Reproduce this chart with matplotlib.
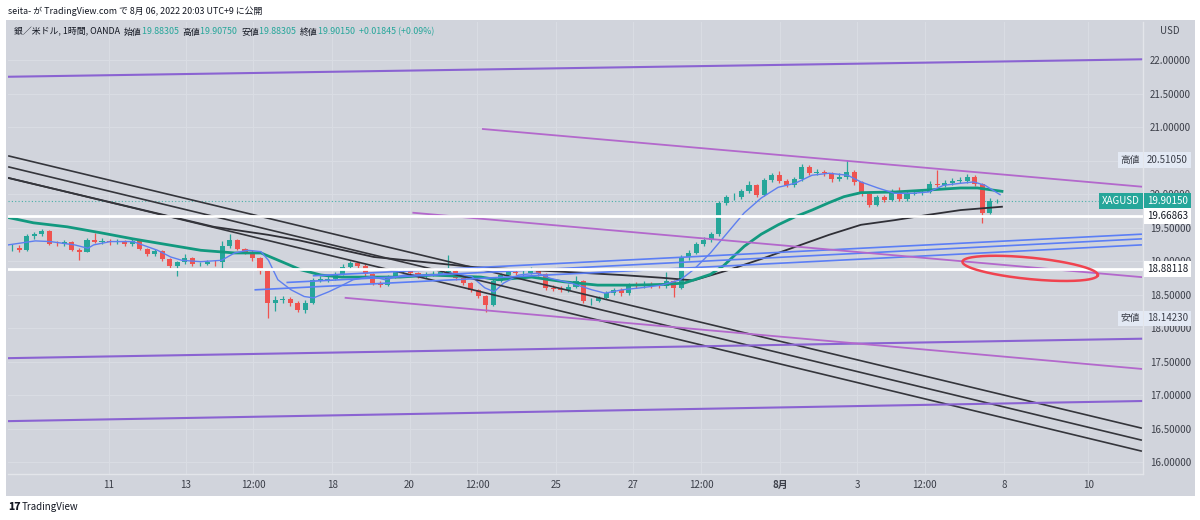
import numpy as np
import matplotlib.pyplot as plt
import matplotlib.transforms as mtransforms
from matplotlib.patches import Rectangle

plt.rcParams['font.family'] = ['Noto Sans CJK JP', 'DejaVu Sans']

# ---------------------------------------------
# データ (4時間ごとの足, 時間軸は1時間足の本数)
# ---------------------------------------------
open0 = 19.19
closes = [
    19.20, 19.16, 19.38, 19.40, 19.45, 19.26, 19.25, 19.28, 19.17, 19.14,
    19.32, 19.29, 19.30, 19.28, 19.28, 19.26, 19.30, 19.18, 19.11, 19.15,
    19.03, 18.92, 18.98, 19.04, 18.95, 18.96, 18.99, 18.98, 19.22, 19.31,
    19.18, 19.14, 19.05, 18.85, 18.38, 18.42, 18.43, 18.38, 18.27, 18.38,
    18.72, 18.72, 18.73, 18.81, 18.91, 18.97, 18.93, 18.80, 18.67, 18.64,
    18.76, 18.86, 18.86, 18.82, 18.77, 18.79, 18.81, 18.84, 18.85, 18.74,
    18.67, 18.56, 18.48, 18.35, 18.70, 18.79, 18.84, 18.82, 18.82, 18.85,
    18.80, 18.60, 18.58, 18.56, 18.61, 18.70, 18.40, 18.41, 18.45, 18.52,
    18.56, 18.52, 18.64, 18.62, 18.66, 18.63, 18.62, 18.70, 18.60, 19.06,
    19.12, 19.25, 19.32, 19.40, 19.86, 19.95, 19.96, 20.04, 20.13, 19.99,
    20.21, 20.28, 20.20, 20.13, 20.22, 20.41, 20.32, 20.33, 20.31, 20.22,
    20.26, 20.33, 20.18, 20.00, 19.84, 19.95, 19.91, 20.05, 19.92, 20.00,
    20.02, 20.03, 20.15, 20.13, 20.17, 20.20, 20.20, 20.26, 20.15, 19.72,
    19.89, 19.9015,
]
highs = [
    19.25, 19.24, 19.40, 19.43, 19.48, 19.46, 19.30, 19.31, 19.30, 19.20,
    19.35, 19.42, 19.34, 19.33, 19.33, 19.32, 19.33, 19.31, 19.20, 19.18,
    19.16, 19.05, 19.00, 19.10, 19.06, 18.99, 19.01, 19.01, 19.30, 19.40,
    19.33, 19.20, 19.16, 19.06, 18.86, 18.48, 18.48, 18.46, 18.40, 18.42,
    18.75, 18.77, 18.78, 18.84, 18.95, 19.00, 18.99, 18.95, 18.82, 18.70,
    18.79, 18.89, 18.90, 18.88, 18.84, 18.83, 18.85, 18.88, 19.09, 18.90,
    18.76, 18.69, 18.58, 18.50, 18.73, 18.82, 18.88, 18.88, 18.86, 18.91,
    18.90, 18.82, 18.64, 18.62, 18.66, 18.78, 18.72, 18.45, 18.48, 18.55,
    18.60, 18.59, 18.67, 18.68, 18.70, 18.69, 18.67, 18.84, 18.72, 19.09,
    19.16, 19.28, 19.36, 19.44, 19.90, 19.99, 20.01, 20.07, 20.20, 20.15,
    20.24, 20.31, 20.35, 20.22, 20.26, 20.45, 20.43, 20.37, 20.36, 20.33,
    20.31, 20.5105, 20.36, 20.20, 20.02, 19.98, 19.98, 20.08, 20.11, 20.04,
    20.06, 20.07, 20.19, 20.36, 20.21, 20.24, 20.25, 20.30, 20.28, 20.17,
    19.94, 19.93,
]
lows = [
    19.15, 19.14, 19.15, 19.33, 19.37, 19.24, 19.22, 19.22, 19.15, 19.01,
    19.13, 19.27, 19.26, 19.24, 19.25, 19.22, 19.23, 19.16, 19.08, 19.07,
    19.00, 18.90, 18.77, 18.96, 18.93, 18.92, 18.94, 18.92, 18.90, 19.20,
    19.16, 19.11, 19.00, 18.80, 18.1423, 18.25, 18.37, 18.33, 18.24, 18.22,
    18.36, 18.68, 18.69, 18.71, 18.79, 18.88, 18.89, 18.77, 18.64, 18.61,
    18.63, 18.74, 18.82, 18.79, 18.74, 18.75, 18.77, 18.79, 18.82, 18.72,
    18.64, 18.53, 18.45, 18.24, 18.33, 18.68, 18.77, 18.79, 18.78, 18.80,
    18.77, 18.57, 18.55, 18.53, 18.54, 18.59, 18.37, 18.34, 18.39, 18.43,
    18.50, 18.48, 18.50, 18.59, 18.60, 18.60, 18.59, 18.60, 18.47, 18.58,
    19.02, 19.10, 19.22, 19.28, 19.38, 19.83, 19.91, 19.93, 20.02, 19.95,
    19.97, 20.18, 20.17, 20.10, 20.11, 20.20, 20.29, 20.28, 20.27, 20.18,
    20.19, 20.23, 20.14, 19.97, 19.80, 19.82, 19.88, 19.89, 19.89, 19.90,
    19.98, 19.99, 20.01, 20.10, 20.10, 20.14, 20.16, 20.17, 20.12, 19.56,
    19.70, 19.86,
]

# 移動平均線 (チャートから読んだ値)
ma_fast_t = [-0.5, 14, 22, 35, 42, 45, 54, 66, 74, 79, 86, 92, 102, 113, 120, 127, 134, 138,
             143, 150, 157, 162, 170, 176, 183, 193, 200, 210, 225, 235, 246, 253, 258, 263,
             271, 281, 288, 299, 310, 317, 326, 336, 347, 357, 364, 373, 382, 391, 400, 409,
             418, 427, 436, 446, 453, 462, 471, 480, 489, 497, 506, 513, 519, 527]
ma_fast_p = [19.24, 19.30, 19.29, 19.24, 19.19, 19.24, 19.29, 19.29, 19.21, 19.16, 19.06, 19.01,
             18.99, 19.01, 19.12, 19.16, 19.14, 19.01, 18.72, 18.57, 18.47, 18.45, 18.54, 18.62,
             18.72, 18.77, 18.72, 18.79, 18.79, 18.82, 18.77, 18.60, 18.54, 18.67, 18.79, 18.82,
             18.74, 18.67, 18.57, 18.52, 18.57, 18.60, 18.64, 18.72, 18.87, 19.12, 19.42, 19.72,
             19.94, 20.10, 20.16, 20.28, 20.31, 20.28, 20.18, 20.09, 20.01, 20.01, 20.03, 20.13,
             20.16, 20.18, 20.13, 19.99]
ma_mid_t = [-0.5, 13, 31, 49, 66, 85, 102, 120, 134, 145, 155, 166, 177, 208, 225, 251, 260,
            278, 295, 313, 331, 348, 359, 373, 380, 391, 400, 409, 418, 427, 436, 444, 453,
            471, 489, 506, 515, 528]
ma_mid_p = [19.65, 19.57, 19.51, 19.42, 19.33, 19.24, 19.16, 19.12, 19.12, 18.99, 18.87, 18.79,
            18.76, 18.76, 18.79, 18.76, 18.72, 18.76, 18.69, 18.64, 18.64, 18.65, 18.67, 18.80,
            18.93, 19.22, 19.40, 19.54, 19.66, 19.76, 19.87, 19.96, 20.02, 20.03, 20.06, 20.09,
            20.09, 20.04]
ma_slow_t = [-0.5, 22, 49, 76, 109, 138, 154, 194, 247, 294, 326, 347, 364, 382, 400, 418,
             436, 453, 471, 489, 506, 528]
ma_slow_p = [20.24, 20.09, 19.91, 19.73, 19.51, 19.39, 19.31, 19.06, 18.91, 18.84, 18.79, 18.75,
             18.71, 18.86, 19.03, 19.21, 19.39, 19.54, 19.61, 19.69, 19.76, 19.81]

# 描画ライン (始点時間, 始点価格, 終点時間, 終点価格)
black_lines = [(0, 20.567, 602, 16.507), (0, 20.403, 602, 16.328), (0, 20.239, 602, 16.164)]
blue_lines = [(162, 18.78, 602, 19.40), (148, 18.68, 602, 19.33), (131, 18.57, 602, 19.24)]
purple_long = [(0, 21.75, 602, 22.01), (0, 17.55, 602, 17.84), (0, 16.61, 602, 16.91)]
purple_desc = [(252, 20.97, 602, 20.11), (215, 19.72, 602, 18.76), (179, 18.45, 602, 17.39)]
hlines = [19.66863, 18.88118]
ellipse_t = [507, 579]
ellipse_p = [18.99, 18.79]
ellipse_half = 0.16

hi_price = 20.51050
lo_price = 18.14230
last_price = 19.90150

price_ticks = [16.0, 16.5, 17.0, 17.5, 18.0, 18.5, 19.0, 19.5, 20.0, 20.5, 21.0, 21.5, 22.0]
time_ticks = [53, 94, 130, 172, 213, 249, 291, 332, 368, 410, 451, 487, 529, 574]
time_labels = ['11', '13', '12:00', '18', '20', '12:00', '25', '27', '12:00', '8月', '3',
               '12:00', '8', '10']

BG = '#d1d4dc'
UP = '#26a69a'
DOWN = '#ef5350'
TXT = '#131722'

# ---------------------------------------------
# 図
# ---------------------------------------------
W, H = 1200, 520
fig = plt.figure(figsize=(W / 100, H / 100), dpi=100)
fig.patch.set_facecolor('white')
bg = fig.add_axes([6 / W, 1 - 496 / H, 1189 / W, 476 / H], zorder=0)
bg.set_axis_off()
bg.add_patch(Rectangle((0, 0), 1, 1, transform=bg.transAxes, facecolor=BG, edgecolor='none'))

ax = fig.add_axes([8 / W, 1 - 474 / H, 1135 / W, 452 / H], zorder=2)
ax.set_facecolor(BG)
ax.set_xlim(-0.5, 603)
ax.set_ylim(16 + (462 - 474) / 67, 16 + (462 - 22) / 67)

for s in ['top', 'left']:
    ax.spines[s].set_visible(False)
for s in ['right', 'bottom']:
    ax.spines[s].set_color('#e3e5ea')
    ax.spines[s].set_linewidth(1)

# 高値ラベルの下に完全に隠れる目盛りは表示しない
ax.yaxis.tick_right()
ax.set_yticks(price_ticks)
ax.set_yticklabels(['' if abs(v - hi_price) < 0.03 else f'{v:.5f}' for v in price_ticks])
ax.set_xticks(time_ticks)
ax.set_xticklabels(time_labels)
ax.tick_params(axis='both', length=0, labelsize=7, labelcolor='#3b3e48')
ax.tick_params(axis='y', pad=5)
ax.tick_params(axis='x', pad=4)
for lab in ax.get_xticklabels():
    if lab.get_text() == '8月':
        lab.set_fontweight('bold')
ax.grid(True, color='#dadde4', linewidth=0.7)
ax.set_axisbelow(True)

# ローソク足
c = np.array(closes)
o = np.concatenate([[open0], c[:-1]])
t = np.arange(len(c)) * 4 + 1.5
col = np.where(c >= o, UP, DOWN)
ax.vlines(t, lows, highs, colors=col, linewidth=0.9, zorder=3)
ax.bar(t, np.maximum(np.abs(c - o), 0.008), bottom=np.minimum(o, c), width=2.7,
       color=col, zorder=3, linewidth=0)

# 移動平均
ax.plot(ma_slow_t, ma_slow_p, color='#2f2f36', linewidth=1.3, zorder=4)
ax.plot(ma_mid_t, ma_mid_p, color='#12997f', linewidth=2.0, zorder=4)
ax.plot(ma_fast_t, ma_fast_p, color='#5e7ff0', linewidth=1.0, zorder=4)

# 描画ライン
for x0, y0, x1, y1 in black_lines:
    ax.plot([x0, x1], [y0, y1], color='#34353b', linewidth=1.2, zorder=5)
for x0, y0, x1, y1 in blue_lines:
    ax.plot([x0, x1], [y0, y1], color='#5b7ef5', linewidth=1.2, zorder=5)
for x0, y0, x1, y1 in purple_long:
    ax.plot([x0, x1], [y0, y1], color='#8a63d2', linewidth=1.5, zorder=5)
for x0, y0, x1, y1 in purple_desc:
    ax.plot([x0, x1], [y0, y1], color='#b368cc', linewidth=1.3, zorder=5)
for y in hlines:
    ax.axhline(y, color='white', linewidth=2, zorder=5)
ax.axhline(last_price, color=UP, linewidth=0.8, linestyle=(0, (1, 2)), alpha=0.8, zorder=2)

# 楕円 (画面座標で作ってデータ座標へ戻す)
p1 = ax.transData.transform((ellipse_t[0], ellipse_p[0]))
p2 = ax.transData.transform((ellipse_t[1], ellipse_p[1]))
ctr = (p1 + p2) / 2
a = np.hypot(*(p2 - p1)) / 2
ang = np.arctan2(*(p2 - p1)[::-1])
b = abs(ax.transData.transform((0, ellipse_half))[1] - ax.transData.transform((0, 0))[1])
th = np.linspace(0, 2 * np.pi, 200)
ex = ctr[0] + a * np.cos(th) * np.cos(ang) - b * np.sin(th) * np.sin(ang)
ey = ctr[1] + a * np.cos(th) * np.sin(ang) + b * np.sin(th) * np.cos(ang)
pts = ax.transData.inverted().transform(np.column_stack([ex, ey]))
ax.plot(pts[:, 0], pts[:, 1], color='#f0434f', linewidth=1.8, zorder=6)

# 価格ラベル
tr = mtransforms.blended_transform_factory(ax.transAxes, ax.transData)
xr = 1 + 4 / 1135
xl = 1 - 3 / 1135
def box(x, y, s, fc, tc, ha='left'):
    ax.text(x, y, s, transform=tr, ha=ha, va='center', fontsize=7, color=tc, zorder=20,
            clip_on=False, bbox=dict(boxstyle='square,pad=0.3', facecolor=fc, edgecolor='none'))

box(xr, hi_price, f'{hi_price:.5f}', '#e3e9f4', '#3b3e48')
box(xl, hi_price, '高値', '#e3e9f4', '#3b3e48', ha='right')
box(xr, lo_price, f'{lo_price:.5f}', '#e3e9f4', '#3b3e48')
box(xl, lo_price, '安値', '#e3e9f4', '#3b3e48', ha='right')
box(xr, last_price, f'{last_price:.5f}', UP, 'white')
box(xl, last_price, 'XAGUSD', UP, 'white', ha='right')
for y in hlines:
    box(xr, y, f'{y:.5f}', 'white', TXT)

# ヘッダー
r = fig.canvas.get_renderer()
def row(x, y, parts, size=6.4, weight='normal'):
    for s, cc in parts:
        tt = fig.text(x, H - y, s, color=cc, fontsize=size, va='center', fontweight=weight,
                      transform=mtransforms.IdentityTransform(), zorder=5)
        x += tt.get_window_extent(r).width
    return x

row(8, 11, [('seita- が TradingView.com で 8月 06, 2022 20:03 UTC+9 に公開', TXT)])
row(14, 32, [('銀／米ドル, 1時間, OANDA  ', TXT),
             ('始値', TXT), ('19.88305  ', UP),
             ('高値', TXT), ('19.90750  ', UP),
             ('安値', TXT), ('19.88305  ', UP),
             ('終値', TXT), ('19.90150  ', UP),
             ('+0.01845 (+0.09%)', UP)])
row(1160, 31, [('USD', '#3b3e48')], size=7)
row(8, 507, [('17', TXT)], size=7.5, weight='heavy')
row(22, 507, [('TradingView', TXT)], size=7)

fig.savefig('out.png', dpi=100)
